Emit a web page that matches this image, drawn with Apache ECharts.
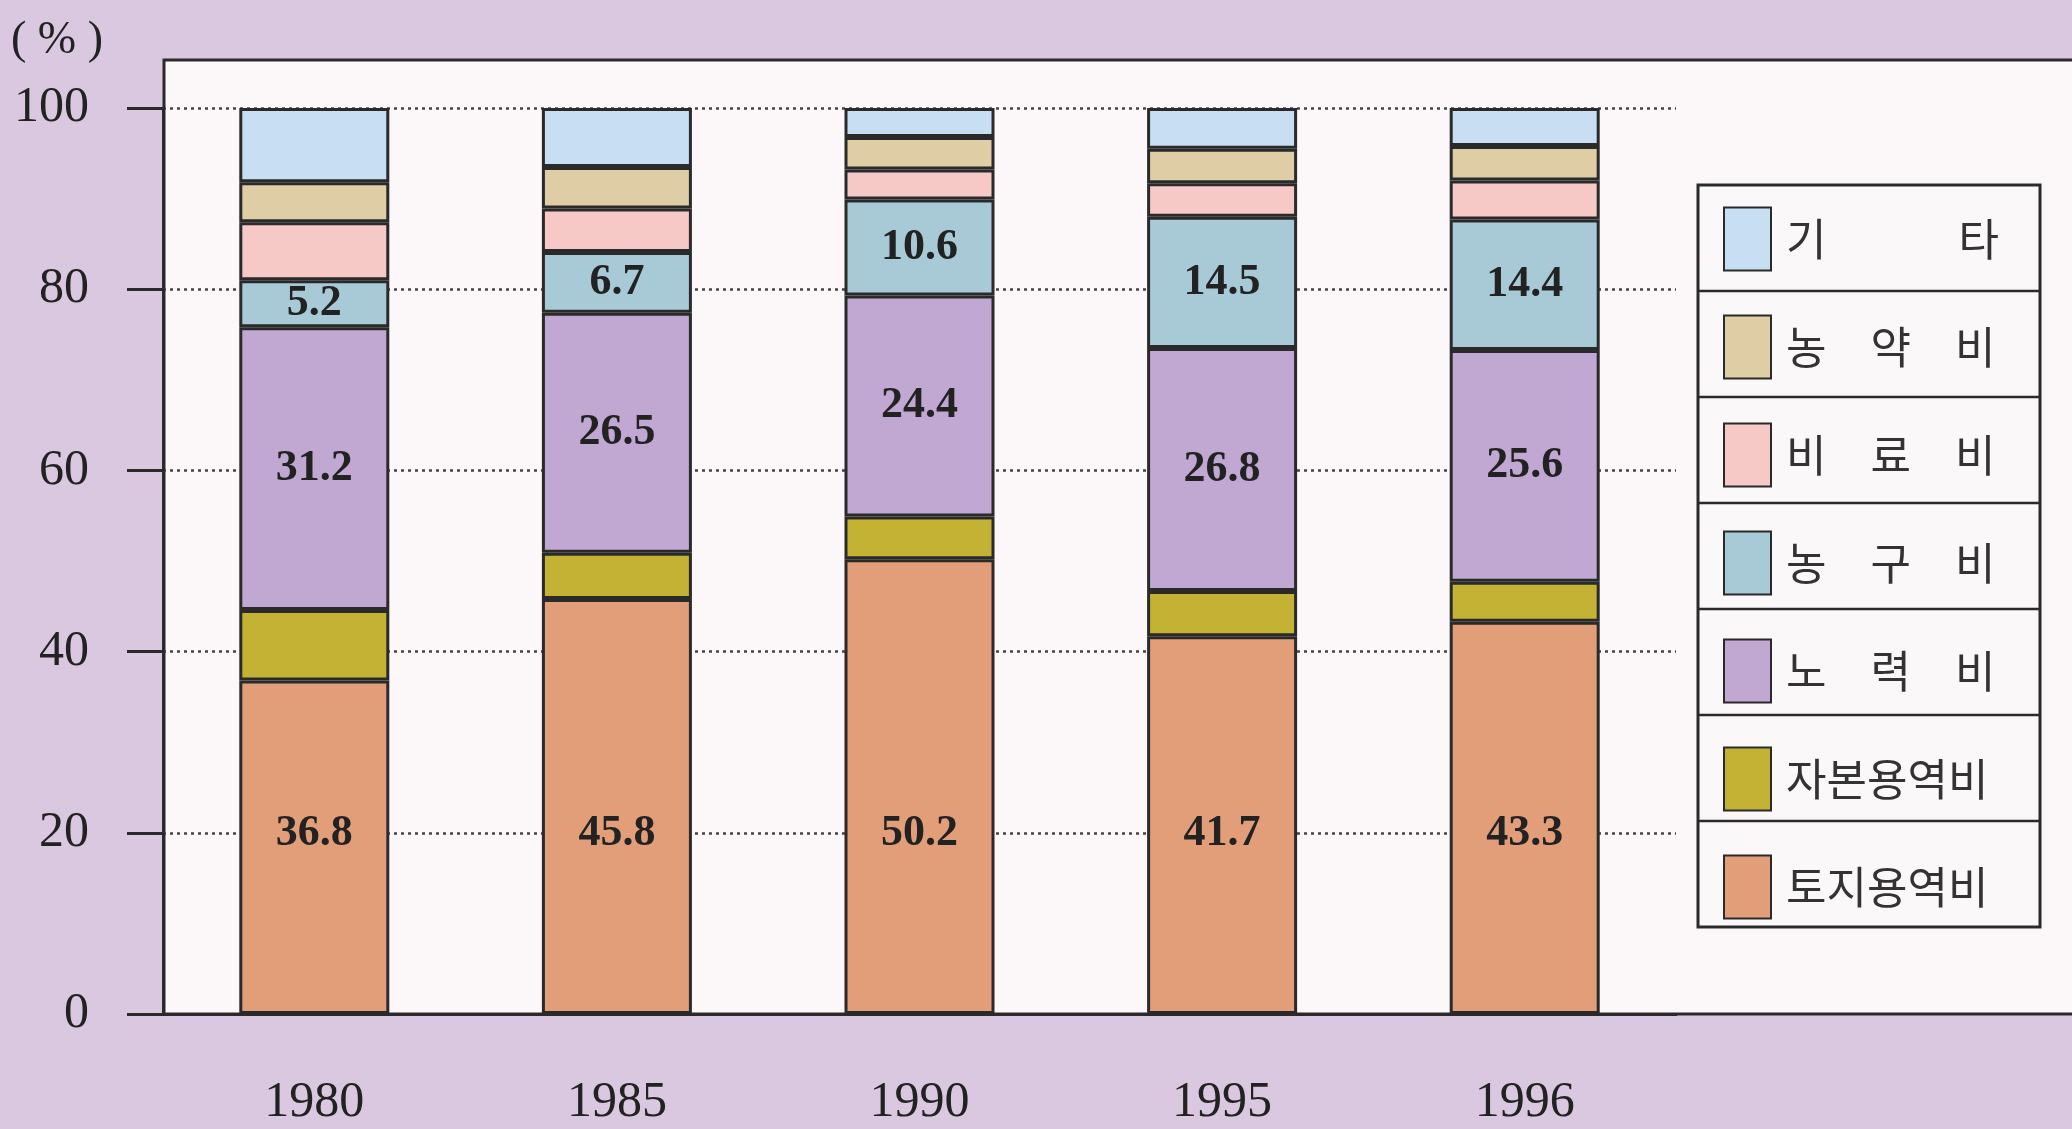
<!DOCTYPE html>
<html>
<head>
<meta charset="utf-8">
<script src="https://cdn.jsdelivr.net/npm/echarts@6/dist/echarts.min.js"></script>
<style>
  html, body { margin: 0; padding: 0; background: #d9c8df; }
  #main { width: 2072px; height: 1129px; }
</style>
</head>
<body>
<div id="main"></div>
<script>
var chartDom = document.getElementById('main');
var myChart = echarts.init(chartDom);
var option;

// 연도
var years = ['1980', '1985', '1990', '1995', '1996'];
// 비목별 구성비 (%), 아래에서 위로 쌓는 순서
var toji = [36.8, 45.8, 50.2, 41.7, 43.3];     // 토지용역비
var jabon = [7.8, 5.1, 4.7, 5.0, 4.4];         // 자본용역비
var noryeok = [31.2, 26.5, 24.4, 26.8, 25.6];  // 노력비
var nonggu = [5.2, 6.7, 10.6, 14.5, 14.4];     // 농구비
var biryo = [6.4, 4.8, 3.3, 3.7, 4.3];         // 비료비
var nongyak = [4.4, 4.6, 3.6, 3.8, 3.8];       // 농약비
var gita = [8.2, 6.5, 3.2, 4.5, 4.2];          // 기타
var yTicks = [0, 20, 40, 60, 80, 100];

var legendOrder = ['기타', '농약비', '비료비', '농구비', '노력비', '자본용역비', '토지용역비'];
var legendText = {
  '기타': '기\u3000\u3000\u3000타',
  '농약비': '농\u3000약\u3000비',
  '비료비': '비\u3000료\u3000비',
  '농구비': '농\u3000구\u3000비',
  '노력비': '노\u3000력\u3000비',
  '자본용역비': '자본용역비',
  '토지용역비': '토지용역비'
};

var serif = '"Liberation Serif", "DejaVu Serif", serif';
var line = '#2a2a2a';

function bar(name, data, color, label) {
  return {
    name: name,
    type: 'bar',
    stack: 'total',
    barWidth: 150,
    data: data,
    itemStyle: { color: color, borderColor: line, borderWidth: 3 },
    label: label || { show: false }
  };
}

var midLabel = {
  show: true,
  position: 'inside',
  fontFamily: serif,
  fontWeight: 'bold',
  fontSize: 44,
  color: '#222'
};

// legend box rows
var boxTop = 185, rowH = 106, boxLeft = 1698, boxW = 342;
var legendLines = [];
for (var i = 1; i < legendOrder.length; i++) {
  legendLines.push({
    type: 'line',
    z: 1,
    shape: { x1: boxLeft, y1: boxTop + rowH * i, x2: boxLeft + boxW, y2: boxTop + rowH * i },
    style: { stroke: line, lineWidth: 2.5 }
  });
}

option = {
  backgroundColor: '#d9c8df',
  animation: false,
  grid: { left: 163, top: 108, width: 1513, bottom: 115 },
  graphic: [
    {
      type: 'rect',
      z: -10,
      shape: { x: 164, y: 60, width: 2000, height: 954 },
      style: { fill: '#fcf8fa', stroke: line, lineWidth: 3 }
    },
    {
      type: 'rect',
      z: 1,
      shape: { x: boxLeft, y: boxTop, width: boxW, height: rowH * legendOrder.length },
      style: { fill: '#fbf8fa', stroke: line, lineWidth: 3 }
    }
  ].concat(legendLines),
  legend: {
    orient: 'vertical',
    left: 1723,
    top: boxTop + (rowH - 63) / 2,
    padding: 0,
    itemWidth: 47,
    itemHeight: 63,
    itemGap: rowH - 63,
    icon: 'rect',
    selectedMode: false,
    data: legendOrder,
    formatter: function (name) { return legendText[name]; },
    textStyle: {
      fontFamily: '"Noto Sans CJK KR", sans-serif',
      fontSize: 44,
      color: '#333',
      padding: [0, 0, 0, 10]
    }
  },
  xAxis: {
    type: 'category',
    data: years,
    axisLine: { lineStyle: { color: line, width: 3 } },
    axisTick: { alignWithLabel: true, length: 38, lineStyle: { color: line, width: 3 } },
    axisLabel: { fontFamily: serif, fontSize: 50, color: '#222', margin: 64 }
  },
  yAxis: {
    type: 'value',
    min: yTicks[0],
    max: yTicks[yTicks.length - 1],
    interval: 20,
    name: '( % )',
    nameGap: 44,
    nameTextStyle: { fontFamily: serif, fontSize: 46, color: '#222', align: 'right', padding: [0, 60, 0, 0] },
    axisLine: { show: true, lineStyle: { color: line, width: 3 } },
    axisTick: { show: true, length: 36, lineStyle: { color: line, width: 3 } },
    axisLabel: { fontFamily: serif, fontSize: 50, color: '#222', margin: 74 },
    splitLine: { lineStyle: { color: '#444', width: 2.5, type: [3, 4] } }
  },
  series: [
    bar('토지용역비', toji, '#e29e78', {
      show: true,
      position: 'insideBottom',
      distance: 158,
      fontFamily: serif,
      fontWeight: 'bold',
      fontSize: 44,
      color: '#222'
    }),
    bar('자본용역비', jabon, '#c4b234'),
    bar('노력비', noryeok, '#c0a8d2', midLabel),
    bar('농구비', nonggu, '#a8cad6', midLabel),
    bar('비료비', biryo, '#f6c8c6'),
    bar('농약비', nongyak, '#decda5'),
    bar('기타', gita, '#c8def2')
  ]
};

option && myChart.setOption(option);
</script>
</body>
</html>
